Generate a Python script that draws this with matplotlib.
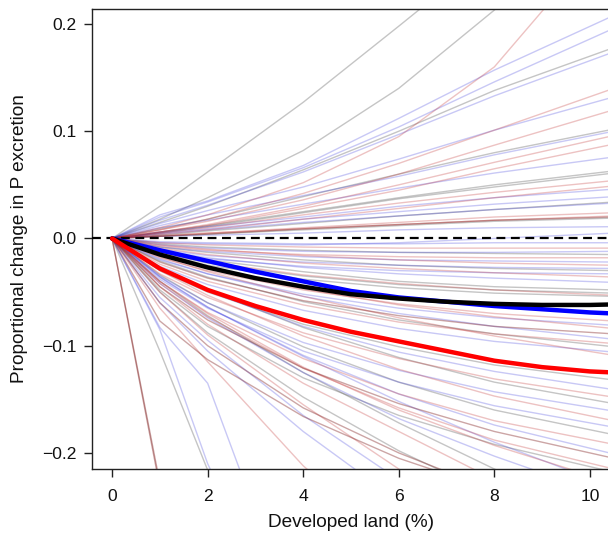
import matplotlib
matplotlib.use("Agg")
import matplotlib.pyplot as plt
from matplotlib.ticker import FuncFormatter

# Developed land (%) at which each simulated run is recorded
run_x = [0, 1, 2, 4, 6, 8, 10.5]
mean_x = [0, 1, 2, 3, 4, 5, 6, 7, 8, 9, 10, 10.5]

# Proportional change in P excretion for individual runs (values at run_x[1:])
grey_runs = [
    [0.030, 0.062, 0.127, 0.198, 0.270, 0.370],
    [0.018, 0.038, 0.082, 0.140, 0.213, 0.320],
    [0.015, 0.030, 0.064, 0.100, 0.138, 0.178],
    [0.009, 0.018, 0.039, 0.060, 0.080, 0.102],
    [0.006, 0.012, 0.025, 0.038, 0.050, 0.063],
    [0.005, 0.011, 0.024, 0.037, 0.048, 0.061],
    [0.002, 0.004, 0.008, 0.012, 0.016, 0.019],
    [0.003, 0.007, 0.014, 0.021, 0.027, 0.034],
    [-0.005, -0.008, -0.011, -0.013, -0.014, -0.015],
    [-0.008, -0.013, -0.020, -0.025, -0.028, -0.030],
    [-0.012, -0.020, -0.031, -0.040, -0.045, -0.048],
    [-0.014, -0.023, -0.035, -0.043, -0.048, -0.051],
    [-0.015, -0.025, -0.038, -0.046, -0.051, -0.054],
    [-0.021, -0.036, -0.059, -0.076, -0.089, -0.101],
    [-0.030, -0.050, -0.080, -0.101, -0.118, -0.132],
    [-0.027, -0.048, -0.083, -0.111, -0.134, -0.154],
    [-0.034, -0.060, -0.101, -0.134, -0.160, -0.183],
    [-0.048, -0.082, -0.130, -0.165, -0.192, -0.218],
    [-0.040, -0.072, -0.125, -0.172, -0.215, -0.262],
    [-0.050, -0.088, -0.148, -0.198, -0.240, -0.288],
    [-0.105, -0.216, -0.430, -0.640, -0.850, -1.100],
]
blue_runs = [
    [0.022, 0.035, 0.068, 0.112, 0.157, 0.208],
    [0.020, 0.034, 0.066, 0.104, 0.146, 0.196],
    [0.017, 0.031, 0.062, 0.097, 0.133, 0.174],
    [0.014, 0.026, 0.048, 0.074, 0.101, 0.132],
    [0.010, 0.017, 0.032, 0.047, 0.061, 0.076],
    [0.006, 0.011, 0.020, 0.030, 0.038, 0.046],
    [0.005, 0.009, 0.018, 0.025, 0.032, 0.039],
    [0.004, 0.008, 0.015, 0.021, 0.027, 0.033],
    [0.002, 0.003, 0.005, 0.008, 0.010, 0.011],
    [-0.004, -0.005, -0.006, -0.004, 0.000, 0.005],
    [0.012, 0.022, 0.040, 0.058, 0.078, 0.100],
    [-0.003, -0.004, -0.005, -0.005, -0.004, -0.004],
    [-0.006, -0.009, -0.012, -0.013, -0.013, -0.012],
    [-0.008, -0.012, -0.017, -0.020, -0.021, -0.022],
    [-0.010, -0.016, -0.022, -0.025, -0.027, -0.028],
    [-0.012, -0.019, -0.026, -0.030, -0.032, -0.033],
    [-0.011, -0.018, -0.027, -0.033, -0.037, -0.041],
    [-0.020, -0.033, -0.052, -0.065, -0.074, -0.081],
    [-0.019, -0.033, -0.054, -0.070, -0.082, -0.094],
    [-0.026, -0.043, -0.067, -0.084, -0.096, -0.106],
    [-0.028, -0.049, -0.082, -0.106, -0.124, -0.141],
    [-0.035, -0.060, -0.097, -0.123, -0.143, -0.161],
    [-0.038, -0.065, -0.105, -0.134, -0.156, -0.176],
    [-0.036, -0.064, -0.109, -0.145, -0.174, -0.201],
    [-0.036, -0.064, -0.110, -0.152, -0.190, -0.232],
    [-0.042, -0.074, -0.125, -0.168, -0.203, -0.242],
    [-0.055, -0.095, -0.165, -0.225, -0.280, -0.340],
    [-0.060, -0.105, -0.180, -0.245, -0.300, -0.360],
    [-0.083, -0.135, -0.375, -0.600, -0.800, -1.050],
    [-0.085, -0.210, -0.400, -0.600, -0.800, -1.050],
]
red_runs = [
    [0.010, 0.022, 0.052, 0.095, 0.160, 0.290],
    [0.008, 0.018, 0.042, 0.070, 0.101, 0.140],
    [0.008, 0.016, 0.036, 0.060, 0.087, 0.120],
    [0.006, 0.013, 0.030, 0.050, 0.071, 0.096],
    [0.006, 0.012, 0.028, 0.045, 0.065, 0.088],
    [0.005, 0.010, 0.022, 0.033, 0.043, 0.054],
    [0.003, 0.005, 0.010, 0.015, 0.020, 0.024],
    [0.002, 0.005, 0.009, 0.013, 0.017, 0.021],
    [0.004, 0.008, 0.018, 0.028, 0.038, 0.049],
    [-0.004, -0.006, -0.008, -0.009, -0.009, -0.009],
    [-0.007, -0.011, -0.015, -0.017, -0.018, -0.018],
    [-0.006, -0.010, -0.016, -0.020, -0.023, -0.025],
    [-0.009, -0.015, -0.023, -0.028, -0.032, -0.036],
    [-0.013, -0.022, -0.034, -0.042, -0.048, -0.053],
    [-0.018, -0.030, -0.048, -0.061, -0.070, -0.077],
    [-0.016, -0.028, -0.047, -0.062, -0.073, -0.084],
    [-0.024, -0.040, -0.062, -0.078, -0.089, -0.098],
    [-0.017, -0.031, -0.054, -0.074, -0.091, -0.109],
    [-0.033, -0.055, -0.088, -0.112, -0.131, -0.148],
    [-0.030, -0.053, -0.091, -0.122, -0.147, -0.170],
    [-0.040, -0.069, -0.112, -0.145, -0.170, -0.192],
    [-0.042, -0.073, -0.121, -0.158, -0.188, -0.215],
    [-0.040, -0.070, -0.120, -0.160, -0.193, -0.228],
    [-0.045, -0.080, -0.135, -0.180, -0.225, -0.275],
    [-0.050, -0.090, -0.155, -0.215, -0.270, -0.330],
    [-0.065, -0.115, -0.212, -0.290, -0.360, -0.440],
]
brown_runs = [
    [0.002, 0.004, 0.009, 0.013, 0.017, 0.020],
    [-0.022, -0.037, -0.058, -0.072, -0.082, -0.089],
    [-0.045, -0.076, -0.121, -0.154, -0.180, -0.205],
    [-0.060, -0.100, -0.158, -0.200, -0.235, -0.272],
    [-0.077, -0.113, -0.166, -0.205, -0.235, -0.267],
    [-0.232, -0.460, -0.900, -1.300, -1.700, -2.200],
    [-0.228, -0.450, -0.880, -1.280, -1.680, -2.180],
]

# Mean responses
mean_black = [0, -0.015, -0.027, -0.037, -0.045, -0.052, -0.056, -0.059, -0.061, -0.062, -0.062, -0.0615]
mean_blue = [0, -0.011, -0.021, -0.031, -0.040, -0.049, -0.055, -0.059, -0.063, -0.066, -0.069, -0.070]
mean_red = [0, -0.028, -0.048, -0.063, -0.076, -0.087, -0.096, -0.105, -0.114, -0.120, -0.124, -0.125]

x_ticks = [0, 2, 4, 6, 8, 10]
y_ticks = [-0.2, -0.1, 0.0, 0.1, 0.2]

plt.rcParams["font.family"] = ["Liberation Sans", "DejaVu Sans"]

fig = plt.figure(figsize=(6.08, 5.34), dpi=100)
ax = fig.add_axes([92 / 608, 65 / 534, 518 / 608, 460 / 534])

styles = [
    (grey_runs, (0.35, 0.35, 0.35, 0.35)),
    (blue_runs, (0.15, 0.15, 0.85, 0.25)),
    (red_runs, (0.75, 0.15, 0.15, 0.28)),
    (brown_runs, (0.5, 0.12, 0.12, 0.4)),
]
for runs, col in styles:
    for vals in runs:
        ax.plot(run_x, [0] + vals, color=col, lw=1.0, solid_joinstyle="round")

ax.axhline(0, color="black", lw=1.6, ls=(0, (4, 2.5)), zorder=5)

ax.plot(mean_x, mean_blue, color="blue", lw=3.2, zorder=6, solid_capstyle="round")
ax.plot(mean_x, mean_black, color="black", lw=3.2, zorder=6, solid_capstyle="round")
ax.plot(mean_x, mean_red, color="red", lw=3.2, zorder=6, solid_capstyle="round")

ax.set_xlim(-0.42, 10.42)
ax.set_ylim(-0.215, 0.214)
ax.set_xticks(x_ticks)
ax.set_yticks(y_ticks)
ax.yaxis.set_major_formatter(FuncFormatter(lambda v, p: f"{v:.1f}".replace("-", "\u2212")))

for s in ax.spines.values():
    s.set_linewidth(1.0)
    s.set_color("#222222")
ax.tick_params(axis="both", direction="out", length=6, width=1.0, color="#222222",
               labelsize=12.6, labelcolor="#111111")
ax.tick_params(axis="x", pad=8.5)
ax.tick_params(axis="y", pad=5)

ax.set_xlabel("Developed land (%)", fontsize=13.7, labelpad=7, color="#111111")
ax.set_ylabel("Proportional change in P excretion", fontsize=13.7, labelpad=10, color="#111111")

fig.savefig("out.png", dpi=100)
